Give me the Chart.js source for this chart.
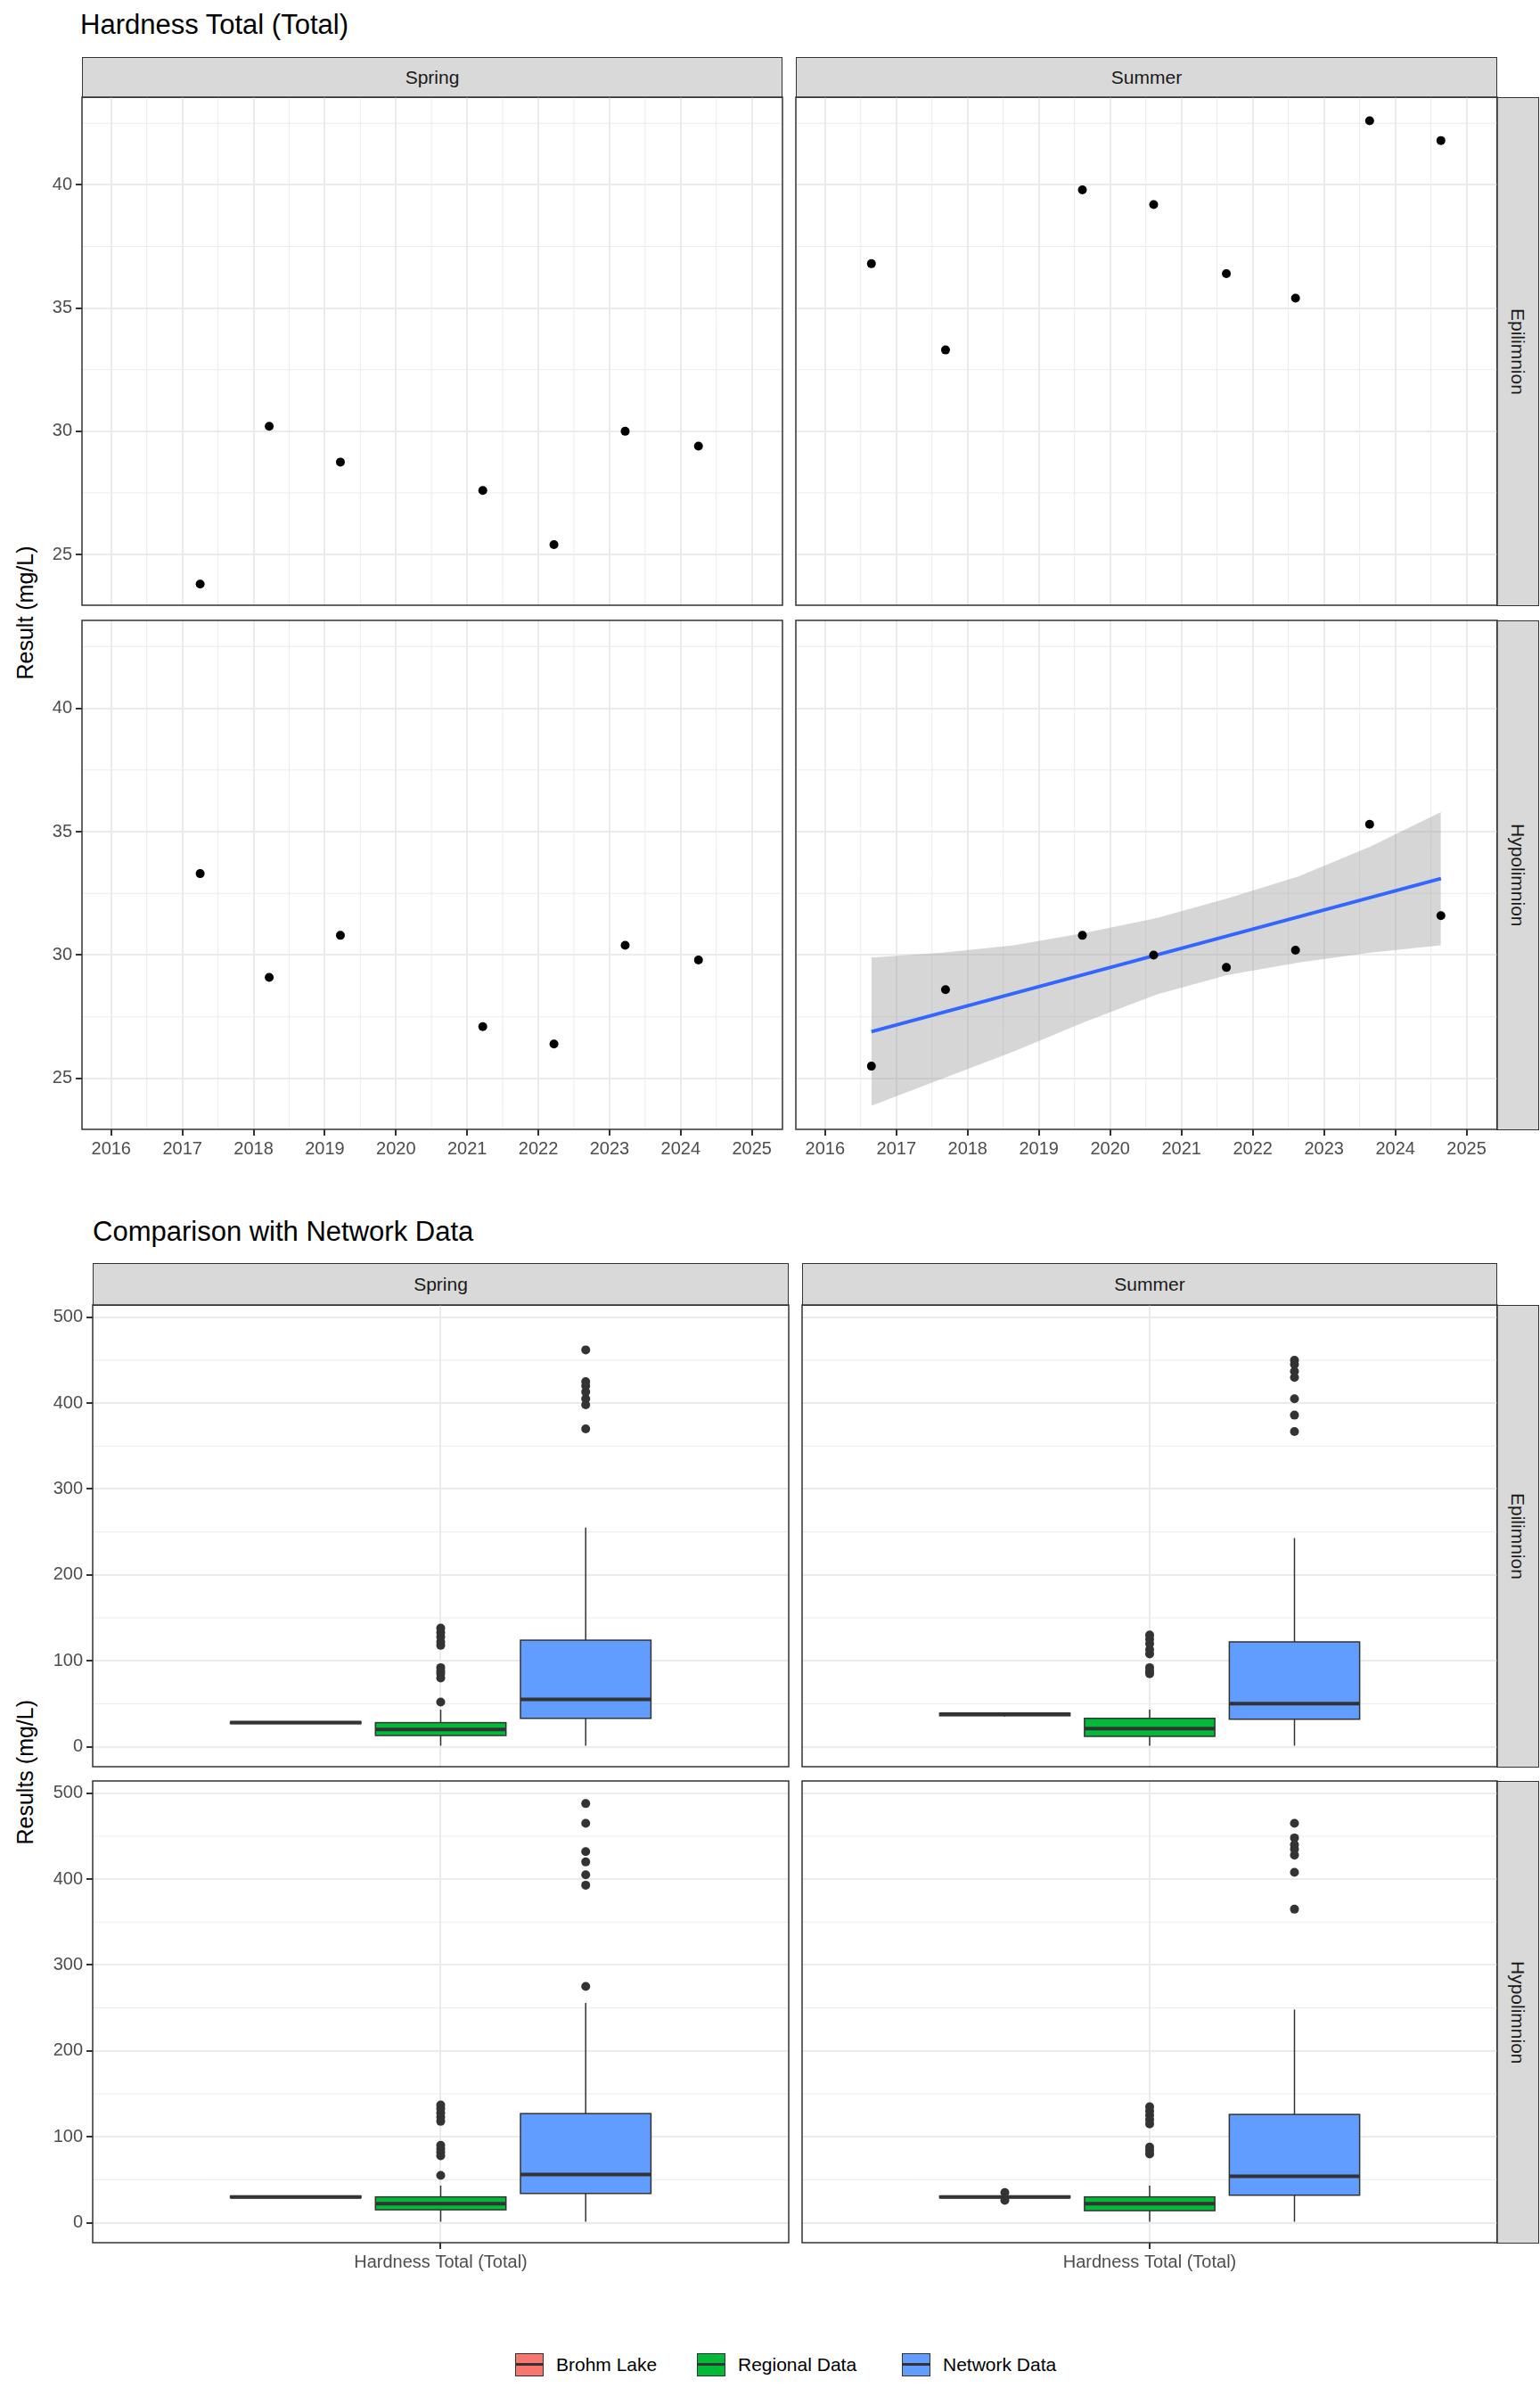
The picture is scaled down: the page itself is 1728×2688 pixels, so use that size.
<!DOCTYPE html>
<html><head><meta charset="utf-8">
<script src="https://cdn.jsdelivr.net/npm/chart.js@4.4.0/dist/chart.umd.min.js"></script>
<style>
body{margin:0;width:1728px;height:2688px;background:#fff;position:relative;font-family:"Liberation Sans",Arial,sans-serif;overflow:hidden}
.abs{position:absolute}
.strip{position:absolute;background:#d9d9d9;border:1.5px solid #333;box-sizing:border-box;display:flex;align-items:center;justify-content:center;font-size:21px;color:#1a1a1a}
.vert{writing-mode:vertical-rl}
.title{position:absolute;font-size:31px;color:#000}
.ytitle{position:absolute;font-size:25px;color:#000;transform:rotate(-90deg);transform-origin:center;white-space:nowrap}
.leg{position:absolute;top:2640px;font-size:21px;color:#000;display:flex;align-items:center}
.key{width:32px;height:26px;border:1.5px solid #333;box-sizing:border-box;position:relative;margin-right:14px}
.key:after{content:"";position:absolute;left:0;right:0;top:10px;height:3px;background:#333}
</style></head><body>
<script>
// ---------- data ----------
const yearTicks=[2016,2017,2018,2019,2020,2021,2022,2023,2024,2025];
const hardTicks=[25,30,35,40];
const springEpiX=[2017.25,2018.22,2019.22,2021.22,2022.22,2023.22,2024.25];
const springEpiY=[23.8,30.2,28.75,27.6,25.4,30.0,29.4];
const springHypoX=[2017.25,2018.22,2019.22,2021.22,2022.22,2023.22,2024.25];
const springHypoY=[33.3,29.1,30.8,27.1,26.4,30.4,29.8];
const summerEpiX=[2016.65,2017.69,2019.61,2020.61,2021.63,2022.6,2023.64,2024.64];
const summerEpiY=[36.8,33.3,39.8,39.2,36.4,35.4,42.6,41.8];
const summerHypoX=[2016.65,2017.69,2019.61,2020.61,2021.63,2022.6,2023.64,2024.64];
const summerHypoY=[25.5,28.6,30.8,30.0,29.5,30.2,35.3,31.6];
const trendX=[2016.65,2024.64];
const trendY=[26.9,33.1];
const ribbonX=[2016.65,2017.65,2018.65,2019.65,2020.65,2021.65,2022.65,2023.65,2024.64];
const ribbonLo=[23.9,25.0,26.1,27.3,28.4,29.2,29.7,30.1,30.4];
const ribbonHi=[29.9,30.1,30.4,30.9,31.5,32.3,33.2,34.4,35.8];

const groups=["Brohm Lake","Regional Data","Network Data"];
const groupColors=["#F8766D","#00BA38","#619CFF"];
const resultTicks=[0,100,200,300,400,500];
// [whiskerLow, q1, median, q3, whiskerHigh] per group
const springEpiBox=[[27,27,28,29,29],[1,13,20,28,43],[1,33,55,124,255]];
const springEpiOut=[[],[52,80,85,88,92,118,122,128,133,138],[370,398,405,413,420,425,462]];
const summerEpiBox=[[35,36,38,39,40],[1,12,21,33,43],[1,32,50,122,243]];
const summerEpiOut=[[],[85,88,92,108,113,120,125,130],[367,386,405,430,437,445,450]];
const springHypoBox=[[29,29,30,31,31],[1,15,22,30,43],[1,34,56,127,256]];
const springHypoOut=[[],[55,78,82,86,90,118,123,128,133,137],[275,393,405,420,432,465,488]];
const summerHypoBox=[[27,29,30,31,33],[1,14,22,30,43],[1,32,54,126,248]];
const summerHypoOut=[[26,35],[80,84,88,115,120,125,130,135],[365,408,428,435,440,448,465]];
const groupPos=[0.75,1.0,1.25];
const boxWidth=0.225;

// ---------- helpers ----------
function div(cls,txt,st){const d=document.createElement('div');d.className=cls;if(txt)d.textContent=txt;Object.assign(d.style,st);document.body.appendChild(d);return d;}
const pts=(xs,ys)=>xs.map((x,i)=>({x,y:ys[i]}));

const panelPlugin={id:'panel',
 beforeDatasetsDraw(c,a,o){const ctx=c.ctx,ca=c.chartArea,xs=c.scales.x,ys=c.scales.y;ctx.save();
  ctx.beginPath();ctx.rect(ca.left,ca.top,ca.right-ca.left,ca.bottom-ca.top);ctx.clip();
  ctx.strokeStyle='#ebebeb';ctx.lineWidth=1;
  (o.xminor||[]).forEach(v=>{const p=xs.getPixelForValue(v);ctx.beginPath();ctx.moveTo(p,ca.top);ctx.lineTo(p,ca.bottom);ctx.stroke();});
  (o.yminor||[]).forEach(v=>{const p=ys.getPixelForValue(v);ctx.beginPath();ctx.moveTo(ca.left,p);ctx.lineTo(ca.right,p);ctx.stroke();});
  (o.boxes||[]).forEach((b,i)=>{const cx=groupPos[i],x0=xs.getPixelForValue(cx-boxWidth/2),x1=xs.getPixelForValue(cx+boxWidth/2),xc=xs.getPixelForValue(cx);
   const [wl,q1,md,q3,wh]=b.map(v=>ys.getPixelForValue(v));
   ctx.strokeStyle='#333';ctx.lineWidth=1.5;
   ctx.beginPath();ctx.moveTo(xc,wl);ctx.lineTo(xc,q1);ctx.moveTo(xc,q3);ctx.lineTo(xc,wh);ctx.stroke();
   ctx.fillStyle=groupColors[i];ctx.fillRect(x0,q3,x1-x0,q1-q3);ctx.strokeRect(x0,q3,x1-x0,q1-q3);
   ctx.lineWidth=4;ctx.beginPath();ctx.moveTo(x0,md);ctx.lineTo(x1,md);ctx.stroke();});
  ctx.restore();},
 afterDraw(c){const ctx=c.ctx,ca=c.chartArea;ctx.save();ctx.strokeStyle='#333';ctx.lineWidth=1.5;ctx.strokeRect(ca.left,ca.top,ca.right-ca.left,ca.bottom-ca.top);ctx.restore();}
};

function panel(p){
 const wrap=div('abs','',{left:(p.left-p.yw)+'px',top:p.top+'px',width:(p.w+p.yw)+'px',height:(p.h+p.xh)+'px'});
 const cv=document.createElement('canvas');wrap.appendChild(cv);
 const tickFont={family:'"Liberation Sans",Arial,sans-serif',size:20};
 const ch=new Chart(cv,{type:'scatter',data:{datasets:p.datasets},plugins:[panelPlugin],
  options:{responsive:true,maintainAspectRatio:false,animation:false,devicePixelRatio:1,layout:{padding:0},
   plugins:{legend:{display:false},tooltip:{enabled:false},panel:{xminor:p.xminor,yminor:p.yminor,boxes:p.boxes}},
   scales:{
    x:{type:'linear',min:p.xmin,max:p.xmax,border:{display:false},
     afterBuildTicks:s=>{s.ticks=p.xticks.map(v=>({value:v}));},afterFit:s=>{s.height=p.xh;},
     grid:{color:'#ebebeb',lineWidth:2,drawTicks:p.xh>0,tickLength:7,tickColor:'#333'},
     ticks:{display:p.xh>0,color:'#4d4d4d',font:tickFont,maxRotation:0,autoSkip:false,padding:3,callback:p.xlabel||(v=>v)}},
    y:{type:'linear',min:p.ymin,max:p.ymax,border:{display:false},
     afterBuildTicks:s=>{s.ticks=p.yticks.map(v=>({value:v}));},afterFit:s=>{s.width=p.yw;},
     grid:{color:'#ebebeb',lineWidth:2,drawTicks:p.yw>0,tickLength:7,tickColor:'#333'},
     ticks:{display:p.yw>0,color:'#4d4d4d',font:tickFont,padding:4,callback:v=>v}}}}});
 // align chart area exactly with the intended panel rectangle
 for(let k=0;k<3;k++){
  const ca=ch.chartArea,W=ch.width,H=ch.height;
  const pl=ca.left,pt=ca.top,pr=W-ca.right,pb=H-ca.bottom;
  wrap.style.left=(p.left-pl)+'px';wrap.style.top=(p.top-pt)+'px';
  wrap.style.width=(p.w+pl+pr)+'px';wrap.style.height=(p.h+pt+pb)+'px';
  ch.resize(p.w+pl+pr,p.h+pt+pb);
 }
}

const dot=(data,r)=>({data,pointRadius:r,pointBackgroundColor:'#000',pointBorderWidth:0,showLine:false,order:1});

// ---------- top figure ----------
div('title','Hardness Total (Total)',{left:'90px',top:'10px'});
div('strip','Spring',{left:'92px',top:'64px',width:'786px',height:'46px'});
div('strip','Summer',{left:'893px',top:'64px',width:'787px',height:'46px'});
div('strip vert','Epilimnion',{left:'1679px',top:'109px',width:'48px',height:'571px'});
div('strip vert','Hypolimnion',{left:'1679px',top:'696px',width:'48px',height:'572px'});
div('ytitle','Result (mg/L)',{left:'-52px',top:'673px',width:'160px',textAlign:'center'});
const yearMinor=[2015.5,2016.5,2017.5,2018.5,2019.5,2020.5,2021.5,2022.5,2023.5,2024.5,2025.5];
const hardMinor=[22.5,27.5,32.5,37.5,42.5];
const topCommon={xmin:2015.59,xmax:2025.43,ymin:22.94,ymax:43.56,xticks:yearTicks,yticks:hardTicks,xminor:yearMinor,yminor:hardMinor};
panel({...topCommon,left:92,top:109,w:786,h:570,yw:52,xh:0,datasets:[dot(pts(springEpiX,springEpiY),5)]});
panel({...topCommon,left:893,top:109,w:787,h:570,yw:0,xh:0,datasets:[dot(pts(summerEpiX,summerEpiY),5)]});
panel({...topCommon,left:92,top:696,w:786,h:571,yw:52,xh:42,datasets:[dot(pts(springHypoX,springHypoY),5)]});
panel({...topCommon,left:893,top:696,w:787,h:571,yw:0,xh:42,datasets:[
 {data:pts(ribbonX,ribbonLo),showLine:true,pointRadius:0,borderWidth:0,borderColor:'rgba(0,0,0,0)',order:3},
 {data:pts(ribbonX,ribbonHi),showLine:true,pointRadius:0,borderWidth:0,borderColor:'rgba(0,0,0,0)',fill:'-1',backgroundColor:'rgba(153,153,153,0.4)',order:3},
 {data:pts(trendX,trendY),showLine:true,pointRadius:0,borderWidth:4,borderColor:'#3366FF',order:2},
 dot(pts(summerHypoX,summerHypoY),5)]});

// ---------- bottom figure ----------
div('title','Comparison with Network Data',{left:'104px',top:'1364px'});
div('strip','Spring',{left:'104px',top:'1417px',width:'781px',height:'48px'});
div('strip','Summer',{left:'900px',top:'1417px',width:'780px',height:'48px'});
div('strip vert','Epilimnion',{left:'1679px',top:'1464px',width:'48px',height:'519px'});
div('strip vert','Hypolimnion',{left:'1679px',top:'1998px',width:'48px',height:'519px'});
div('ytitle','Results (mg/L)',{left:'-52px',top:'1975px',width:'160px',textAlign:'center'});
const outPts=outs=>outs.flatMap((o,i)=>o.map(v=>({x:groupPos[i],y:v})));
const bxCommon={xmin:0.4,xmax:1.6,ymin:-23.3,ymax:514.3,xticks:[1],yticks:resultTicks,xminor:[],yminor:[50,150,250,350,450]};
const od=o=>[{data:outPts(o),pointRadius:5,pointBackgroundColor:'#333',pointBorderWidth:0,showLine:false}];
const xl=()=> 'Hardness Total (Total)';
panel({...bxCommon,left:104,top:1464,w:781,h:518,yw:64,xh:0,boxes:springEpiBox,datasets:od(springEpiOut)});
panel({...bxCommon,left:900,top:1464,w:780,h:518,yw:0,xh:0,boxes:summerEpiBox,datasets:od(summerEpiOut)});
panel({...bxCommon,left:104,top:1998,w:781,h:518,yw:64,xh:44,xlabel:xl,boxes:springHypoBox,datasets:od(springHypoOut)});
panel({...bxCommon,left:900,top:1998,w:780,h:518,yw:0,xh:44,xlabel:xl,boxes:summerHypoBox,datasets:od(summerHypoOut)});

// legend
const legX=[578,782,1012];
groups.forEach((g,i)=>{const l=div('leg','',{left:legX[i]+'px'});const k=document.createElement('div');k.className='key';k.style.background=groupColors[i];l.appendChild(k);const t=document.createElement('span');t.textContent=g;l.appendChild(t);});
</script>
</body></html>
